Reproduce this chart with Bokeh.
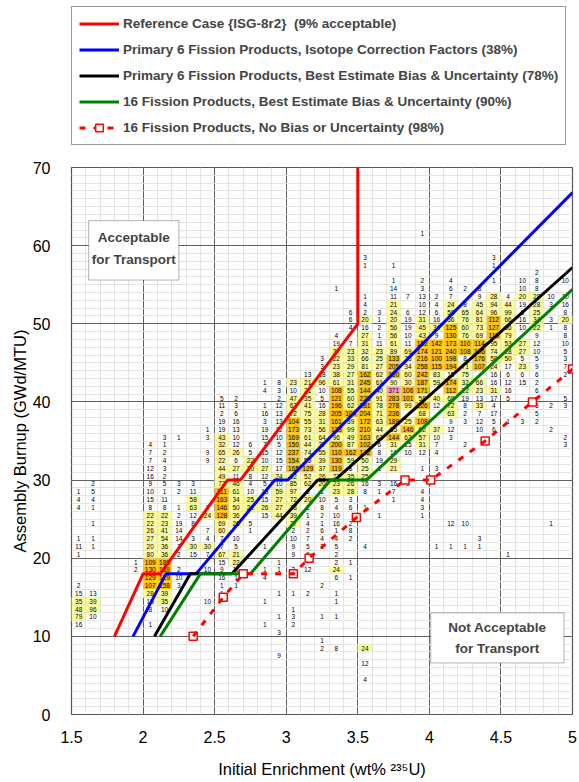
from bokeh.plotting import figure
from bokeh.layouts import column
from bokeh.models import (ColumnDataSource, Range1d, FixedTicker, Label, BoxAnnotation,
                          Legend, LegendItem, CustomJSTickFormatter)
from bokeh.embed import file_html
from bokeh.resources import INLINE
from bokeh.core.properties import value

# ---------------- data ----------------
# loading curves: initial enrichment (wt%) vs minimum burnup (GWd/MTU)
ref_x = [1.80, 2.00, 2.12, 2.59, 2.68, 3.50, 3.50]
ref_y = [10, 18, 18, 30, 30, 50, 70]
icf_x = [1.93, 2.16, 2.37, 2.92, 3.01, 5.00]
icf_y = [10, 18, 18, 30, 30, 66.8]
be6_x = [2.08, 2.33, 2.62, 3.22, 3.34, 5.00]
be6_y = [10, 18, 18, 30, 30, 57.2]
be16_x = [2.12, 2.40, 2.75, 3.31, 3.56, 5.00]
be16_y = [10, 18, 18, 30, 30, 54.4]
nb_x = [2.35, 2.56, 2.70, 3.05, 3.16, 3.49, 3.83, 4.01, 4.39, 4.72, 5.00]
nb_y = [10, 15, 18, 18, 20, 25.2, 30, 30, 35, 40, 44.2]

# assembly counts per (enrichment bin lower edge, burnup bin lower edge)
E15 = {28: 1, 27: 4, 26: 4, 22: 1, 21: 11, 20: 1, 16: 2, 15: 15, 14: 35, 13: 48, 12: 79, 11: 16}
E16 = {29: 2, 28: 5, 27: 4, 26: 1, 24: 1, 22: 1, 21: 1, 15: 13, 14: 39, 13: 96, 12: 10}
E19 = {19: 1, 18: 2}
E20 = {34: 4, 33: 7, 32: 7, 31: 12, 30: 16, 29: 9, 28: 10, 27: 15, 26: 8, 25: 22, 24: 22, 23: 26,
       22: 27, 21: 20, 20: 80, 19: 109, 18: 130, 17: 129, 16: 107, 15: 28, 14: 15, 13: 8, 11: 1}
E21 = {35: 3, 34: 1, 33: 2, 32: 4, 31: 3, 30: 2, 29: 5, 28: 1, 27: 11, 26: 8, 25: 22, 24: 23, 23: 41,
       22: 54, 21: 36, 20: 36, 19: 188, 18: 139, 17: 129, 16: 158, 15: 39, 14: 35, 13: 10}
E22 = {35: 1, 29: 3, 28: 2, 26: 1, 25: 2, 24: 19, 23: 14, 22: 14, 21: 2, 20: 2, 18: 2, 17: 10, 16: 3}
E23 = {29: 3, 28: 11, 27: 58, 26: 63, 25: 12, 24: 8, 22: 3, 21: 30, 20: 15}
E24 = {36: 1, 35: 3, 33: 9, 32: 9, 26: 2, 25: 24, 23: 7, 22: 4, 21: 30, 20: 7, 18: 10, 14: 10}
E25 = {40: 5, 39: 11, 38: 2, 37: 19, 36: 19, 35: 43, 34: 32, 33: 65, 32: 22, 31: 44, 30: 49, 29: 72,
       28: 111, 27: 163, 26: 146, 25: 128, 24: 69, 23: 60, 22: 7, 21: 7, 20: 67, 19: 15, 18: 9,
       17: 16, 16: 1, 15: 1}
E26 = {40: 2, 39: 3, 38: 6, 37: 16, 36: 13, 35: 10, 34: 12, 33: 26, 32: 6, 31: 27, 30: 11, 29: 46,
       28: 61, 27: 34, 26: 50, 25: 36, 24: 26, 22: 10, 21: 5, 20: 21, 19: 22, 18: 11, 17: 1, 16: 1}
E27 = {34: 6, 33: 5, 32: 22, 31: 20, 30: 8, 29: 4, 28: 10, 27: 25, 26: 22, 24: 5, 23: 1}
E28 = {42: 1, 41: 4, 39: 1, 38: 16, 37: 3, 36: 19, 35: 15, 34: 7, 33: 15, 32: 10, 31: 27, 30: 12,
       29: 5, 28: 13, 27: 15, 26: 26, 25: 15, 21: 1, 18: 1, 17: 4, 14: 1, 11: 1}
E29 = {42: 8, 41: 3, 40: 2, 39: 12, 38: 13, 37: 13, 36: 12, 35: 10, 34: 5, 33: 12, 32: 15, 31: 17,
       30: 24, 29: 10, 28: 59, 27: 27, 26: 27, 25: 44, 19: 1, 18: 1, 15: 1, 12: 1, 10: 3, 7: 9}
E30 = {42: 23, 41: 10, 40: 47, 39: 62, 38: 72, 37: 104, 36: 173, 35: 169, 34: 150, 33: 237, 32: 154,
       31: 165, 30: 92, 29: 85, 28: 97, 27: 72, 26: 38, 25: 39, 24: 27, 23: 2, 22: 10, 21: 9, 20: 9,
       18: 3, 15: 1, 13: 1, 12: 3, 11: 2}
E31 = {43: 13, 42: 21, 41: 21, 40: 35, 39: 41, 38: 75, 37: 55, 36: 73, 35: 61, 34: 44, 33: 74, 32: 55,
       31: 129, 30: 52, 29: 62, 28: 6, 27: 20, 26: 1, 25: 1, 24: 4, 23: 2, 22: 7, 21: 5, 20: 6,
       18: 12, 15: 2}
E32 = {45: 3, 44: 3, 43: 18, 42: 96, 41: 10, 40: 5, 39: 16, 38: 28, 37: 31, 36: 56, 35: 64, 34: 37,
       33: 55, 32: 39, 31: 37, 30: 26, 29: 20, 28: 1, 27: 10, 26: 8, 25: 2, 24: 1, 23: 6, 22: 4,
       21: 2, 16: 2, 12: 1, 9: 1, 8: 2}
E33 = {54: 1, 48: 4, 47: 19, 46: 37, 45: 22, 44: 23, 43: 38, 42: 61, 41: 108, 40: 121, 39: 196,
       38: 205, 37: 161, 36: 123, 35: 96, 34: 200, 33: 110, 32: 130, 31: 119, 30: 77, 29: 23,
       28: 23, 27: 5, 26: 4, 25: 10, 24: 16, 23: 1, 22: 4, 21: 5, 20: 2, 19: 2, 18: 24, 17: 6,
       15: 1, 14: 1, 12: 1, 8: 8}
E34 = {51: 6, 50: 6, 49: 4, 47: 7, 46: 23, 45: 33, 44: 29, 43: 27, 42: 31, 41: 55, 40: 60, 39: 62,
       38: 104, 37: 39, 36: 99, 35: 49, 34: 87, 33: 162, 32: 59, 31: 8, 30: 35, 29: 26, 28: 28,
       27: 3, 26: 6, 24: 2, 23: 8, 22: 2, 19: 1, 17: 1}
E35 = {58: 3, 57: 1, 53: 1, 52: 4, 51: 2, 50: 20, 49: 16, 48: 27, 47: 31, 46: 32, 45: 66, 44: 81,
       43: 162, 42: 245, 41: 144, 40: 228, 39: 181, 38: 204, 37: 172, 36: 210, 35: 163, 34: 102,
       33: 142, 32: 50, 31: 25, 30: 25, 29: 16, 28: 8, 26: 1, 21: 4, 8: 24, 6: 12, 4: 4}
E36 = {51: 3, 50: 1, 49: 2, 48: 1, 47: 11, 46: 23, 45: 25, 44: 27, 43: 62, 42: 61, 41: 40, 40: 91,
       39: 78, 38: 71, 37: 63, 36: 44, 35: 62, 34: 6, 33: 8, 32: 19, 31: 1, 29: 3, 28: 1, 25: 1}
E37 = {57: 1, 55: 1, 54: 14, 53: 11, 52: 21, 51: 24, 50: 20, 49: 56, 48: 56, 47: 61, 46: 89, 45: 133,
       44: 205, 43: 160, 42: 90, 41: 371, 40: 283, 39: 278, 38: 236, 37: 189, 36: 55, 35: 144,
       34: 31, 33: 16, 32: 29, 31: 21, 29: 16, 28: 7, 27: 1}
E38 = {53: 7, 51: 6, 50: 19, 49: 19, 48: 10, 47: 11, 46: 69, 45: 73, 44: 34, 43: 60, 42: 30, 41: 106,
       40: 101, 39: 99, 37: 25, 36: 146, 35: 63, 34: 15, 33: 10, 29: 3}
E39 = {61: 1, 55: 2, 54: 3, 53: 13, 52: 10, 51: 12, 50: 31, 49: 45, 48: 43, 47: 152, 46: 174, 45: 216,
       44: 258, 43: 242, 42: 187, 41: 171, 40: 58, 39: 126, 38: 68, 37: 108, 36: 62, 35: 57,
       34: 31, 33: 12, 31: 1, 28: 4, 27: 4, 26: 3, 25: 1}
E40 = {53: 2, 52: 4, 51: 6, 50: 16, 49: 34, 48: 9, 47: 142, 46: 121, 45: 100, 44: 115, 43: 83, 42: 59,
       40: 40, 39: 12, 36: 37, 35: 10, 34: 7, 33: 4, 31: 3, 21: 1}
E41 = {55: 4, 54: 6, 53: 7, 52: 24, 51: 58, 50: 56, 49: 125, 48: 130, 47: 173, 46: 240, 45: 198,
       44: 194, 43: 15, 42: 174, 41: 112, 40: 68, 39: 72, 38: 63, 37: 9, 36: 12, 35: 3, 24: 12,
       21: 1}
E42 = {54: 2, 52: 8, 51: 65, 50: 76, 49: 60, 48: 76, 47: 110, 46: 108, 45: 8, 44: 71, 43: 75, 42: 32,
       41: 22, 40: 19, 39: 8, 38: 2, 37: 3, 34: 2, 24: 10, 21: 1}
E43 = {54: 3, 53: 9, 52: 45, 51: 64, 50: 81, 49: 73, 48: 69, 47: 114, 46: 106, 45: 176, 44: 107,
       42: 66, 41: 23, 40: 13, 39: 33, 38: 7, 37: 12, 36: 10, 22: 3, 21: 1}
E44 = {58: 3, 57: 1, 55: 1, 53: 28, 52: 94, 51: 96, 50: 112, 49: 127, 48: 110, 47: 95, 46: 74, 45: 58,
       44: 24, 43: 16, 42: 16, 41: 31, 40: 17, 39: 4, 38: 17, 37: 5, 36: 6}
E45 = {53: 4, 52: 44, 51: 99, 50: 66, 49: 66, 48: 79, 47: 53, 46: 28, 45: 50, 44: 17, 43: 6, 42: 12,
       41: 16, 40: 5, 37: 1, 20: 1}
E46 = {55: 10, 54: 10, 53: 20, 52: 19, 51: 6, 50: 16, 49: 10, 47: 27, 46: 27, 45: 5, 44: 23, 43: 6,
       42: 15, 37: 3}
E47 = {56: 2, 55: 8, 54: 8, 53: 28, 52: 28, 51: 25, 50: 34, 49: 22, 48: 9, 47: 12, 46: 10, 45: 5,
       44: 9, 43: 6, 42: 2, 41: 6, 39: 5, 38: 5, 37: 2}
E48 = {53: 10, 52: 3, 50: 3, 49: 1, 39: 2, 36: 2, 24: 1}
E49 = {55: 10, 53: 10, 52: 16, 51: 8, 50: 20, 49: 8, 48: 8, 47: 10, 46: 5, 45: 3, 44: 7, 43: 2,
       40: 5, 39: 3, 35: 2, 34: 3}

columns = [(1.5, E15), (1.6, E16), (1.9, E19), (2.0, E20), (2.1, E21), (2.2, E22), (2.3, E23),
           (2.4, E24), (2.5, E25), (2.6, E26), (2.7, E27), (2.8, E28), (2.9, E29), (3.0, E30),
           (3.1, E31), (3.2, E32), (3.3, E33), (3.4, E34), (3.5, E35), (3.6, E36), (3.7, E37),
           (3.8, E38), (3.9, E39), (4.0, E40), (4.1, E41), (4.2, E42), (4.3, E43), (4.4, E44),
           (4.5, E45), (4.6, E46), (4.7, E47), (4.8, E48), (4.9, E49)]

x_ticks = [1.5, 2.0, 2.5, 3.0, 3.5, 4.0, 4.5, 5.0]
y_ticks = [0, 10, 20, 30, 40, 50, 60, 70]

legend_labels = [
    "Reference Case {ISG-8r2}  (9% acceptable)",
    "Primary 6 Fission Products, Isotope Correction Factors (38%)",
    "Primary 6 Fission Products, Best Estimate Bias & Uncertainty (78%)",
    "16 Fission Products, Best Estimate Bias & Uncertainty (90%)",
    "16 Fission Products, No Bias or Uncertainty (98%)",
]

# ---------------- build table ----------------
cx, cy, ctext, cfill = [], [], [], []
for e0, d in columns:
    for b0, n in d.items():
        cx.append(round(e0 + 0.05, 3))
        cy.append(b0 + 0.5)
        ctext.append(str(n))
        if n >= 300:
            cfill.append("#FF99CC")
        elif n >= 100:
            cfill.append("#FFC000")
        elif n >= 20:
            cfill.append("#FFFF99")
        else:
            cfill.append(None)
all_src = ColumnDataSource(dict(x=cx, y=cy, t=ctext))
sh = [i for i, f in enumerate(cfill) if f is not None]
shade_src = ColumnDataSource(dict(x=[cx[i] for i in sh], y=[cy[i] for i in sh],
                                  c=[cfill[i] for i in sh]))

FONT = "Liberation Sans"
RED, BLUE, BLACK, GREEN = "#FF0000", "#0000FF", "#000000", "#008000"
W = 579

# ---------------- main chart ----------------
p = figure(width=W, height=622, x_range=Range1d(1.5, 5.0), y_range=Range1d(0, 70),
           output_backend="svg", toolbar_location=None,
           min_border_left=71, min_border_right=7, min_border_top=7, min_border_bottom=68)
p.background_fill_color = "white"
p.border_fill_color = "white"
p.outline_line_color = "#555555"
p.outline_line_width = 1.2

minor_x = [round(1.5 + 0.1 * i, 2) for i in range(36)]
minor_y = list(range(0, 71))
p.xaxis.ticker = FixedTicker(ticks=x_ticks, minor_ticks=minor_x)
p.yaxis.ticker = FixedTicker(ticks=y_ticks, minor_ticks=minor_y)
p.xgrid.ticker = FixedTicker(ticks=x_ticks, minor_ticks=minor_x)
p.ygrid.ticker = FixedTicker(ticks=y_ticks, minor_ticks=minor_y)
for g in (p.xgrid, p.ygrid):
    g.grid_line_color = "#606060"
    g.grid_line_width = 1
    g.minor_grid_line_color = "#e4e4e4"
    g.minor_grid_line_width = 1

p.xaxis.formatter = CustomJSTickFormatter(code="return tick.toString();")
for ax in (p.xaxis, p.yaxis):
    ax.axis_line_color = None
    ax.major_tick_line_color = None
    ax.minor_tick_line_color = None
    ax.major_label_text_font = FONT
    ax.major_label_text_font_size = "16px"
    ax.major_label_text_color = "black"
    ax.axis_label_text_font = FONT
    ax.axis_label_text_font_size = "16.5px"
    ax.axis_label_text_font_style = "normal"
    ax.axis_label_text_color = "black"
p.xaxis.major_label_standoff = 10
p.yaxis.major_label_standoff = 15
p.xaxis.axis_label = "Initial Enrichment (wt% \u00b2\u00b3\u2075U)"
p.yaxis.axis_label = "Assembly Burnup (GWd/MTU)"
p.xaxis.axis_label_standoff = 14
p.yaxis.axis_label_standoff = 1

# shaded cells and counts
p.rect(x="x", y="y", width=0.1, height=1, source=shade_src, fill_color="c",
       line_color="#d8d8d8", line_width=0.5)
p.text(x="x", y="y", text="t", source=all_src, text_align="center", text_baseline="middle",
       text_font=value(FONT), text_font_size="6.5px", text_color="black")

# loading curves
p.line(ref_x, ref_y, line_color=RED, line_width=3)
p.line(icf_x, icf_y, line_color=BLUE, line_width=3)
p.line(be6_x, be6_y, line_color=BLACK, line_width=3)
p.line(be16_x, be16_y, line_color=GREEN, line_width=3)
p.scatter(nb_x, nb_y, marker="square", size=8, line_color=RED, line_width=1.5, fill_color="white")
p.line(nb_x, nb_y, line_color=RED, line_width=3, line_dash="6 8")

# annotation boxes
p.add_layout(BoxAnnotation(left=1.62, right=2.25, bottom=55.6, top=63.2, fill_color="white",
                           fill_alpha=1, line_color="black", line_width=1, level="annotation"))
p.add_layout(Label(x=1.935, y=61.0, text="Acceptable", text_align="center", text_baseline="middle",
                   text_font=FONT, text_font_size="13.5px", text_font_style="bold"))
p.add_layout(Label(x=1.935, y=58.2, text="for Transport", text_align="center", text_baseline="middle",
                   text_font=FONT, text_font_size="13.5px", text_font_style="bold"))
p.add_layout(BoxAnnotation(left=4.01, right=4.94, bottom=6.6, top=13.0, fill_color="white",
                           fill_alpha=1, line_color="black", line_width=1, level="annotation"))
p.add_layout(Label(x=4.475, y=11.1, text="Not Acceptable", text_align="center", text_baseline="middle",
                   text_font=FONT, text_font_size="13.5px", text_font_style="bold"))
p.add_layout(Label(x=4.475, y=8.5, text="for Transport", text_align="center", text_baseline="middle",
                   text_font=FONT, text_font_size="13.5px", text_font_style="bold"))

# ---------------- legend panel ----------------
lg = figure(width=W, height=160, x_range=Range1d(0, 1), y_range=Range1d(0, 1),
            output_backend="svg", toolbar_location=None, x_axis_type=None, y_axis_type=None,
            min_border_left=70, min_border_right=0, min_border_top=6, min_border_bottom=0)
lg.outline_line_color = None
lg.grid.visible = False
off = [-5, -4]  # keys drawn only in the legend (outside the visible range)
d_ref = lg.line(off, off, line_color=RED, line_width=3)
d_icf = lg.line(off, off, line_color=BLUE, line_width=3)
d_be6 = lg.line(off, off, line_color=BLACK, line_width=3)
d_be16 = lg.line(off, off, line_color=GREEN, line_width=3)
d_nb = lg.line(off, off, line_color=RED, line_width=3, line_dash="6 8")
d_nbm = lg.scatter(off, off, marker="square", size=8, line_color=RED, line_width=1.5, fill_color="white")
legend = Legend(items=[
    LegendItem(label=legend_labels[0], renderers=[d_ref]),
    LegendItem(label=legend_labels[1], renderers=[d_icf]),
    LegendItem(label=legend_labels[2], renderers=[d_be6]),
    LegendItem(label=legend_labels[3], renderers=[d_be16]),
    LegendItem(label=legend_labels[4], renderers=[d_nb, d_nbm]),
], location="top_left")
legend.label_text_font = FONT
legend.label_text_font_size = "13.5px"
legend.label_text_font_style = "bold"
legend.glyph_width = 40
legend.glyph_height = 19
legend.label_height = 19
legend.spacing = 7
legend.padding = 7
legend.margin = 0
legend.label_standoff = 4
legend.border_line_color = "#333333"
legend.border_line_width = 1
legend.background_fill_alpha = 1
lg.add_layout(legend)

layout = column(lg, p, spacing=0)
open("out.html", "w").write(file_html(layout, INLINE))
